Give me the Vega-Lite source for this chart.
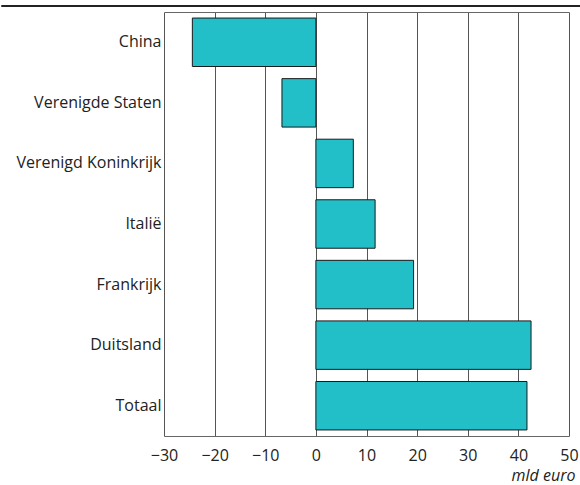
{
  "$schema": "https://vega.github.io/schema/vega-lite/v6.json",
  "padding": {"left": 0, "top": 4, "right": 0, "bottom": 0},
  "background": "white",
  "config": {
    "font": "Open Sans"
  },
  "spacing": 5,
  "vconcat": [
    {
      "width": 580,
      "height": 1,
      "data": {"values": []},
      "mark": {"type": "point", "opacity": 0},
      "encoding": {},
      "view": {"stroke": "#222222", "strokeWidth": 1}
    },
    {
      "width": 568,
      "height": 424,
      "view": {"stroke": null},
      "data": {
        "values": [
          {"land": "China", "waarde": -24.4},
          {"land": "Verenigde Staten", "waarde": -6.7},
          {"land": "Verenigd Koninkrijk", "waarde": 7.4},
          {"land": "Italië", "waarde": 11.7},
          {"land": "Frankrijk", "waarde": 19.3},
          {"land": "Duitsland", "waarde": 42.5},
          {"land": "Totaal", "waarde": 41.7}
        ]
      },
      "encoding": {
        "y": {
          "field": "land",
          "type": "nominal",
          "sort": null,
          "scale": {"paddingInner": 0.2, "paddingOuter": 0.1},
          "axis": {
            "title": null,
            "domain": false,
            "ticks": false,
            "tickSize": 0,
            "offset": -163,
            "labelPadding": 3,
            "labelFontSize": 16,
            "labelColor": "#222222",
            "labelLimit": 200
          }
        },
        "x": {
          "field": "waarde",
          "type": "quantitative",
          "scale": {"domain": [-30, 50], "nice": false, "zero": false, "range": [163, 568]}
        }
      },
      "resolve": {"axis": {"x": "independent"}},
      "layer": [
        {
          "mark": {"type": "bar", "color": "#22BFC8", "stroke": "#1a1a1a", "strokeWidth": 1},
          "encoding": {
            "x": {
              "field": "waarde",
              "type": "quantitative",
              "axis": {
                "orient": "bottom",
                "values": [-30, -20, -10, 0, 10, 20, 30, 40, 50],
                "title": "mld euro",
                "titleFontStyle": "italic",
                "titleFontWeight": "normal",
                "titleFontSize": 16,
                "titleColor": "#222222",
                "titleAnchor": "end",
                "titleAlign": "right",
                "titlePadding": 4,
                "titleX": 574,
                "domain": true,
                "domainColor": "#666666",
                "ticks": false,
                "tickSize": 0,
                "labelPadding": 11,
                "labelFontSize": 16,
                "labelColor": "#222222",
                "labelFlush": false,
                "grid": true,
                "gridColor": "#555555",
                "gridWidth": 1,
                "gridOpacity": 1
              }
            }
          }
        },
        {
          "mark": {"type": "bar", "fillOpacity": 0, "strokeOpacity": 0},
          "encoding": {
            "x": {
              "field": "waarde",
              "type": "quantitative",
              "axis": {
                "orient": "top",
                "title": null,
                "labels": false,
                "ticks": false,
                "grid": false,
                "domain": true,
                "domainColor": "#666666"
              }
            }
          }
        }
      ]
    }
  ]
}
